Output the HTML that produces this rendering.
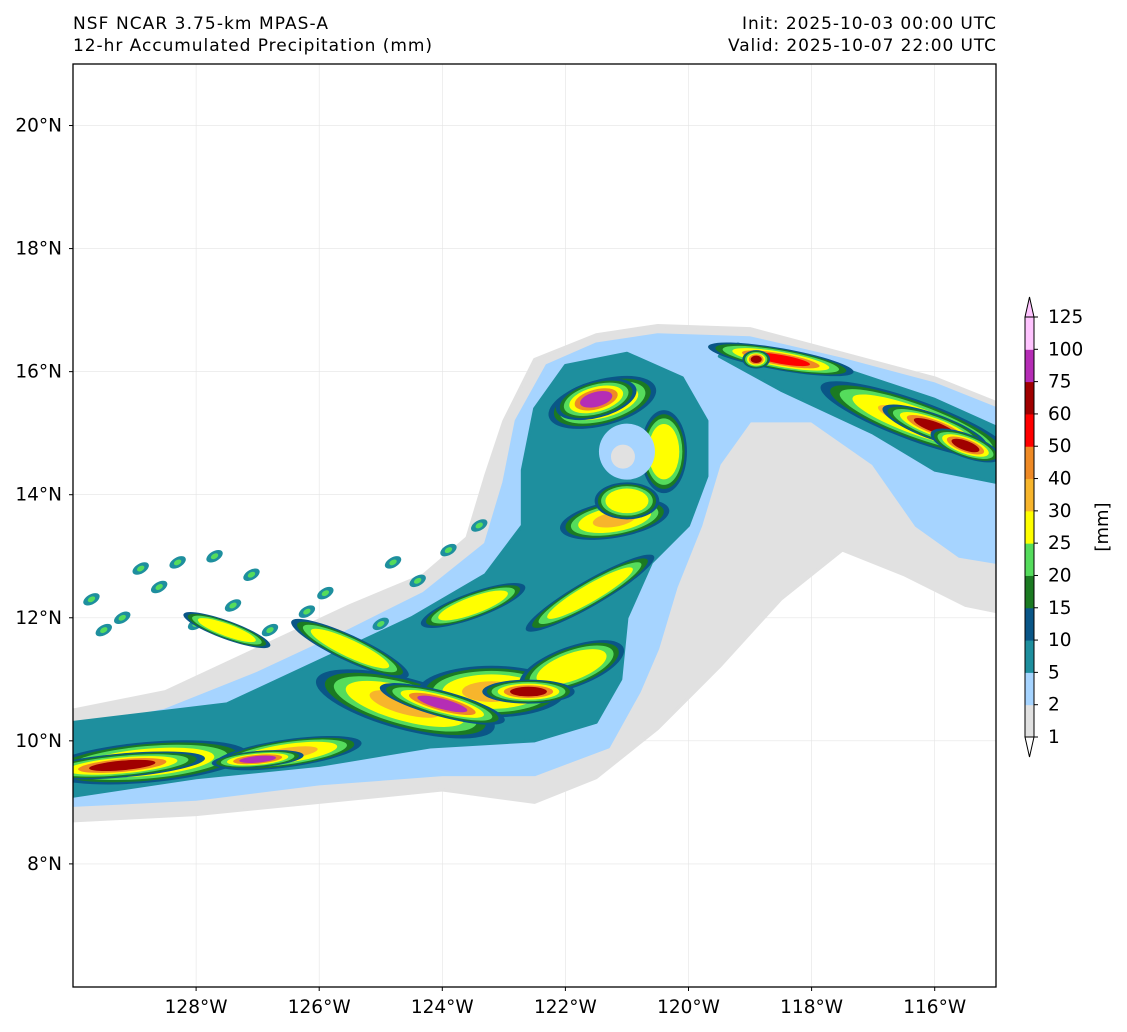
<!DOCTYPE html>
<html><head><meta charset="utf-8"><style>
body{margin:0;background:#fff;}
svg{display:block;font-family:"DejaVu Sans","Liberation Sans",sans-serif;}
</style></head><body>
<svg id="chart" width="1127" height="1032" viewBox="0 0 1127 1032">
<text x="73" y="29" font-size="17" textLength="255">NSF NCAR 3.75-km MPAS-A</text>
<text x="73" y="51" font-size="17" textLength="359">12-hr Accumulated Precipitation (mm)</text>
<text x="996" y="29" font-size="17" text-anchor="end" textLength="254">Init: 2025-10-03 00:00 UTC</text>
<text x="996" y="51" font-size="17" text-anchor="end" textLength="268">Valid: 2025-10-07 22:00 UTC</text>
<defs><clipPath id="mapclip"><rect x="73" y="64" width="923" height="923"/></clipPath></defs>
<g id="grid"></g>
<g id="fills" clip-path="url(#mapclip)"></g>
<rect x="73" y="64" width="923" height="923" fill="none" stroke="#000" stroke-width="1.3"/>
<g id="axes"></g>
<g id="cbar"></g>
<text transform="translate(1108,527) rotate(-90)" font-size="18" text-anchor="middle">[mm]</text>
</svg>
<script>
const lonTicks=[-128,-126,-124,-122,-120,-118,-116];
const latTicks=[8,10,12,14,16,18,20];
const levels=[1,2,5,10,15,20,25,30,40,50,60,75,100,125];
const levelColors=["#e1e1e1","#a6d4ff","#1e8f9e","#0a5687","#1b7a22","#55dc5c","#ffff00","#f7b52c","#ef8a25","#ff0000","#a00000","#b52db5","#ffc4ff"];
const grayPoly=[[-130,8.7],[-128,8.8],[-126,9.0],[-124,9.2],[-122.5,9.0],[-121.5,9.4],[-120.5,10.2],[-119.5,11.2],[-118.5,12.3],[-117.5,13.1],[-116.5,12.7],[-115.5,12.2],[-115,12.1],[-115,15.5],[-116,15.9],[-117.5,16.3],[-119,16.7],[-120.5,16.75],[-121.5,16.6],[-122.5,16.2],[-123,15.2],[-123.3,14.3],[-123.6,13.3],[-124.3,12.7],[-125.5,12.2],[-127,11.5],[-128.5,10.8],[-130,10.5]];
const bluePoly=[[-130,8.95],[-128,9.05],[-126,9.3],[-124,9.45],[-122.5,9.45],[-121.3,9.9],[-120.8,10.8],[-120.5,11.5],[-120.2,12.5],[-119.8,13.5],[-119.5,14.5],[-119.0,15.2],[-118.0,15.2],[-117,14.5],[-116.3,13.5],[-115.6,13.0],[-115,12.9],[-115,15.4],[-116,15.8],[-117.5,16.2],[-119,16.55],[-120.5,16.6],[-121.5,16.45],[-122.3,16.1],[-122.8,15.2],[-123.0,14.2],[-123.3,13.2],[-124.3,12.4],[-125.5,11.8],[-127,11.1],[-128.5,10.5],[-130,10.2]];
const tealPoly=[[-130,9.1],[-128,9.4],[-126,9.6],[-124.2,9.9],[-122.5,10.0],[-121.5,10.3],[-121.1,11.0],[-121.0,12.0],[-120.6,12.9],[-120.0,13.5],[-119.7,14.3],[-119.7,15.2],[-120.1,15.9],[-121,16.3],[-122,16.1],[-122.5,15.4],[-122.7,14.4],[-122.7,13.5],[-123.3,12.7],[-124.5,12.0],[-126,11.3],[-127.5,10.6],[-130,10.3]];
const tealRight=[[-119.2,16.45],[-117.5,16.05],[-116,15.55],[-115,15.1],[-115,14.2],[-116,14.4],[-117,15.0],[-118.5,15.7],[-119.5,16.25]];
const coreLon=[-128.8,-126.5,-124.6,-123.2,-121.9,-121.2,-120.4,-121.4,-121.6,-116.3,-118.5,-125.5,-127.5,-123.5,-121.0,-129.2,-127.0,-124.0,-122.6,-121.5,-116.0,-115.5,-118.9];
const coreLat=[9.65,9.8,10.6,10.8,11.2,13.6,14.7,15.5,12.4,15.2,16.2,11.5,11.8,12.2,13.9,9.6,9.7,10.6,10.8,15.55,15.1,14.8,16.2];
const coreRx=[1.1,0.8,1.0,0.8,0.6,0.6,0.25,0.6,0.8,1.1,0.8,0.7,0.5,0.6,0.35,0.9,0.5,0.7,0.5,0.45,0.6,0.4,0.15];
const coreRy=[0.22,0.15,0.28,0.28,0.22,0.2,0.45,0.25,0.14,0.22,0.12,0.14,0.1,0.14,0.2,0.13,0.09,0.14,0.13,0.2,0.14,0.13,0.1];
const coreAng=[-5,-8,15,0,-20,-10,0,-15,-30,20,10,25,20,-20,0,-5,-5,15,0,-15,20,20,0];
const coreLvl=[7,7,7,7,6,7,6,7,6,7,9,6,6,6,6,10,11,11,10,11,10,10,10];
const dotLon=[-129.7,-129.2,-128.6,-128.0,-127.4,-126.8,-126.2,-125.6,-125.0,-124.4,-129.5,-128.3,-127.1,-125.9,-124.8,-123.9,-123.4,-128.9,-127.7];
const dotLat=[12.3,12.0,12.5,11.9,12.2,11.8,12.1,11.6,11.9,12.6,11.8,12.9,12.7,12.4,12.9,13.1,13.5,12.8,13.0];
const eyeLon=-121.0, eyeLat=14.7;
const X=l=>73+(l+130)*61.55, Y=l=>64+(21-l)*61.53;
const NS="http://www.w3.org/2000/svg";
function mk(t,a,p){const e=document.createElementNS(NS,t);for(const k in a)e.setAttribute(k,a[k]);p.appendChild(e);return e;}
const grid=document.getElementById('grid'),axes=document.getElementById('axes'),fills=document.getElementById('fills'),cb=document.getElementById('cbar');
lonTicks.forEach(l=>{
 const gl=mk('line',{x1:X(l),x2:X(l),y1:64,y2:987,stroke:'#e4e4e4','stroke-width':0.6},grid);
 
 
 mk('line',{x1:X(l),x2:X(l),y1:987,y2:991,stroke:'#000'},axes);
 const t=mk('text',{x:X(l),y:1013,'font-size':18.5,'text-anchor':'middle'},axes);
 t.textContent=(-l)+'°W';
 
 
});
latTicks.forEach(l=>{
 const gl=mk('line',{x1:73,x2:996,y1:Y(l),y2:Y(l),stroke:'#e4e4e4','stroke-width':0.6},grid);
 
 
 mk('line',{x1:69,x2:73,y1:Y(l),y2:Y(l),stroke:'#000'},axes);
 const t=mk('text',{x:62,y:Y(l)+6,'font-size':18.5,'text-anchor':'end'},axes);
 t.textContent=l+'°N';
 
 
});
function poly(pts,c,name){
 const p=mk('polygon',{points:pts.map(q=>X(q[0])+','+Y(q[1])).join(' '),fill:levelColors[c],stroke:levelColors[c],'stroke-width':3,'stroke-linejoin':'round'},fills);
 
 
}
poly(grayPoly,0,'precip-1mm');
poly(bluePoly,1,'precip-2mm');
poly(tealPoly,2,'precip-5mm');
poly(tealRight,2,'precip-5mm-east');
dotLon.forEach((lo,i)=>{
 const cx=X(lo),cy=Y(dotLat[i]);
 const a=mk('ellipse',{cx:cx,cy:cy,rx:9,ry:5,fill:levelColors[2],transform:`rotate(-30 ${cx} ${cy})`},fills);
 
 
 mk('ellipse',{cx:cx,cy:cy,rx:4,ry:2.5,fill:levelColors[5],transform:`rotate(-30 ${cx} ${cy})`},fills);
});
function ell(i,c,scale){
 const cx=X(coreLon[i]),cy=Y(coreLat[i]);
 const e=mk('ellipse',{cx:cx,cy:cy,rx:coreRx[i]*61.55*scale,ry:coreRy[i]*61.53*scale,fill:levelColors[c],transform:`rotate(${coreAng[i]} ${cx} ${cy})`},fills);
 
 
}
for(let i=0;i<coreLon.length;i++){
 const top=coreLvl[i];
 const steps=[[3,1.5],[4,1.35],[5,1.2],[6,1.0],[8,0.8],[top,0.6]];
 steps.forEach(s=>{if(s[0]<=top)ell(i,s[0],s[1]);});
}
const eye=mk('circle',{cx:X(eyeLon),cy:Y(eyeLat),r:28,fill:levelColors[1]},fills);


const eye2=mk('circle',{cx:X(eyeLon)-4,cy:Y(eyeLat)+5,r:12,fill:levelColors[0]},fills);


const cbTop=317,cbBot=737,seg=(cbBot-cbTop)/(levels.length-1),cx0=1025,cw=9;
levelColors.forEach((c,i)=>{
 const r=mk('rect',{x:cx0,y:cbBot-(i+1)*seg,width:cw,height:seg+0.5,fill:c},cb);
 
 
});
const tt=mk('polygon',{points:`${cx0},${cbTop} ${cx0+cw/2},297 ${cx0+cw},${cbTop}`,fill:'#ffc4ff',stroke:'#000','stroke-width':1},cb);


const tb=mk('polygon',{points:`${cx0},${cbBot} ${cx0+cw/2},757 ${cx0+cw},${cbBot}`,fill:'#fff',stroke:'#000','stroke-width':1},cb);


const ol=mk('rect',{x:cx0,y:cbTop,width:cw,height:cbBot-cbTop,fill:'none',stroke:'#000','stroke-width':1},cb);


levels.forEach((v,i)=>{
 const y=cbBot-i*seg;
 mk('line',{x1:cx0+cw,x2:cx0+cw+4,y1:y,y2:y,stroke:'#000'},cb);
 const t=mk('text',{x:1048,y:y+6,'font-size':18.5},cb);
 t.textContent=v;
 
 
});
</script>
</body></html>
